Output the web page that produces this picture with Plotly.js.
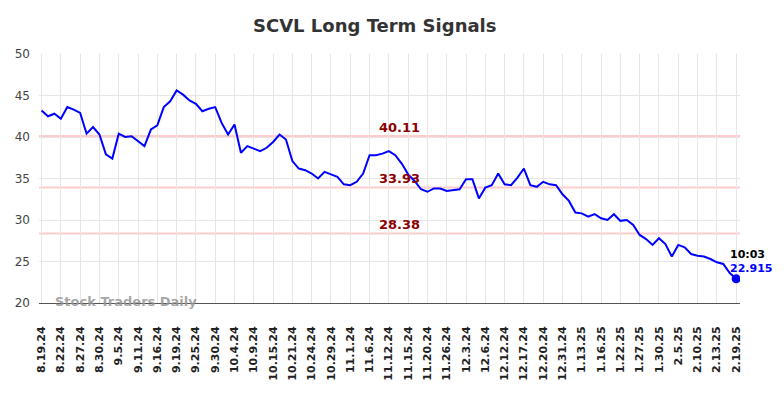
<!DOCTYPE html>
<html>
<head>
<meta charset="utf-8">
<script src="https://cdn.plot.ly/plotly-3.0.1.min.js"></script>
<style>html,body{margin:0;padding:0;background:#fff;}#chart{width:784px;height:398px;}</style>
</head>
<body>
<div id="chart"></div>
<script>
const dates = [
"8.19.24","8.20.24","8.21.24","8.22.24","8.23.24","8.26.24","8.27.24","8.28.24","8.29.24",
"8.30.24","9.3.24","9.4.24","9.5.24","9.6.24","9.9.24","9.11.24","9.12.24","9.13.24",
"9.16.24","9.17.24","9.18.24","9.19.24","9.20.24","9.23.24","9.25.24","9.26.24","9.27.24",
"9.30.24","10.1.24","10.2.24","10.4.24","10.7.24","10.8.24","10.9.24","10.10.24","10.11.24",
"10.15.24","10.16.24","10.17.24","10.21.24","10.22.24","10.23.24","10.24.24","10.25.24","10.28.24",
"10.29.24","10.30.24","10.31.24","11.1.24","11.4.24","11.5.24","11.6.24","11.7.24","11.8.24",
"11.12.24","11.13.24","11.14.24","11.15.24","11.18.24","11.19.24","11.20.24","11.21.24","11.22.24",
"11.26.24","11.27.24","11.29.24","12.3.24","12.4.24","12.5.24","12.6.24","12.9.24","12.10.24",
"12.12.24","12.13.24","12.16.24","12.17.24","12.18.24","12.19.24","12.20.24","12.23.24","12.24.24",
"12.31.24","1.2.25","1.3.25","1.13.25","1.14.25","1.15.25","1.16.25","1.17.25","1.21.25",
"1.22.25","1.23.25","1.24.25","1.27.25","1.28.25","1.29.25","1.30.25","1.31.25","2.3.25",
"2.5.25","2.6.25","2.7.25","2.10.25","2.11.25","2.12.25","2.13.25","2.14.25","2.18.25",
"2.19.25"
];
const values = [
43.2,42.5,42.8,42.2,43.6,43.3,42.9,40.4,41.2,
40.3,37.9,37.4,40.4,40.0,40.1,39.5,38.9,40.9,
41.4,43.6,44.3,45.6,45.1,44.4,44.0,43.1,43.4,
43.6,41.7,40.3,41.5,38.1,38.9,38.6,38.3,38.7,
39.4,40.3,39.7,37.1,36.2,36.0,35.6,35.0,35.8,
35.5,35.2,34.3,34.2,34.6,35.6,37.8,37.8,38.0,
38.3,37.8,36.8,35.5,34.7,33.7,33.4,33.8,33.8,
33.5,33.6,33.7,34.9,34.9,32.6,33.9,34.2,35.6,
34.3,34.2,35.1,36.2,34.2,34.0,34.6,34.3,34.2,
33.1,32.3,30.9,30.8,30.4,30.7,30.2,30.0,30.7,
29.9,30.0,29.4,28.2,27.7,27.0,27.8,27.1,25.6,
27.0,26.7,25.9,25.7,25.6,25.3,24.9,24.7,23.6,
22.915
];
const tickLabels = ["8.19.24","8.22.24","8.27.24","8.30.24","9.5.24","9.11.24","9.16.24","9.19.24","9.25.24","9.30.24","10.4.24","10.9.24","10.15.24","10.21.24","10.24.24","10.29.24","11.1.24","11.6.24","11.12.24","11.15.24","11.20.24","11.26.24","12.3.24","12.6.24","12.12.24","12.17.24","12.20.24","12.31.24","1.13.25","1.16.25","1.22.25","1.27.25","1.30.25","2.5.25","2.10.25","2.13.25","2.19.25"];
const levels = [40.11, 33.93, 28.38];
const levelLabels = ["40.11", "33.93", "28.38"];
const yTicks = [20, 25, 30, 35, 40, 45, 50];
const lastTime = "10:03";

const F = '"DejaVu Sans", Verdana, sans-serif';
const lastIdx = dates.length - 1;

const traces = [
  {x: dates, y: values, type: 'scatter', mode: 'lines',
   line: {color: '#0000ff', width: 2}, hoverinfo: 'skip'},
  {x: [dates[lastIdx]], y: [values[lastIdx]], type: 'scatter', mode: 'markers',
   marker: {color: '#0000ff', size: 9}, hoverinfo: 'skip'}
];

const shapes = levels.map(v => ({type: 'line', xref: 'paper', x0: 0, x1: 1, yref: 'y', y0: v, y1: v,
  line: {color: '#ffcccc', width: 2}, layer: 'below'}));

const annotations = levels.map((v, i) => ({xref: 'paper', x: 0.514, yref: 'y', y: v, yshift: 9,
  text: '<b>' + levelLabels[i] + '</b>', showarrow: false, xanchor: 'center', yanchor: 'middle',
  font: {family: F, size: 13, color: '#8b0000'}}));
annotations.push({xref: 'x', x: dates[lastIdx], yref: 'y', y: values[lastIdx], xshift: -8, yshift: 24,
  text: '<b>' + lastTime + '</b>', showarrow: false, xanchor: 'left', yanchor: 'middle',
  font: {family: F, size: 11, color: '#000000'}});
annotations.push({xref: 'x', x: dates[lastIdx], yref: 'y', y: values[lastIdx], xshift: -8, yshift: 10,
  text: '<b>' + values[lastIdx] + '</b>', showarrow: false, xanchor: 'left', yanchor: 'middle',
  font: {family: F, size: 11, color: '#0000ff'}});
annotations.push({xref: 'paper', x: 0.02, yref: 'paper', y: 0.005, text: '<b>Stock Traders Daily</b>',
  showarrow: false, xanchor: 'left', yanchor: 'middle',
  font: {family: F, size: 13, color: 'rgba(150,150,150,0.85)'}});

const layout = {
  width: 784, height: 398,
  margin: {l: 39, r: 44, t: 54, b: 95},
  paper_bgcolor: '#ffffff', plot_bgcolor: '#ffffff',
  showlegend: false,
  title: {text: '<b>SCVL Long Term Signals</b>', x: 0.478, xref: 'container', xanchor: 'center', y: 0.935, yanchor: 'middle',
    font: {family: F, size: 18, color: '#333333'}},
  xaxis: {type: 'category', range: [-0.4, lastIdx + 0.6], tickmode: 'array', tickvals: tickLabels, ticktext: tickLabels,
    tickangle: -90, tickfont: {family: F, size: 11, color: '#222222', weight: 'bold'},
    showgrid: true, gridcolor: '#e6e6e6', gridwidth: 1, ticks: '', ticklabelstandoff: 18,
    showline: true, linecolor: '#555555', linewidth: 1, zeroline: false, fixedrange: true},
  yaxis: {range: [20, 50], tickmode: 'array', tickvals: yTicks, ticks: '', ticklabelstandoff: 8,
    tickfont: {family: F, size: 12, color: '#444444'},
    showgrid: true, gridcolor: '#e6e6e6', gridwidth: 1, zeroline: false, showline: false, fixedrange: true},
  shapes: shapes,
  annotations: annotations
};

Plotly.newPlot('chart', traces, layout, {displayModeBar: false, staticPlot: true});
</script>
</body>
</html>
